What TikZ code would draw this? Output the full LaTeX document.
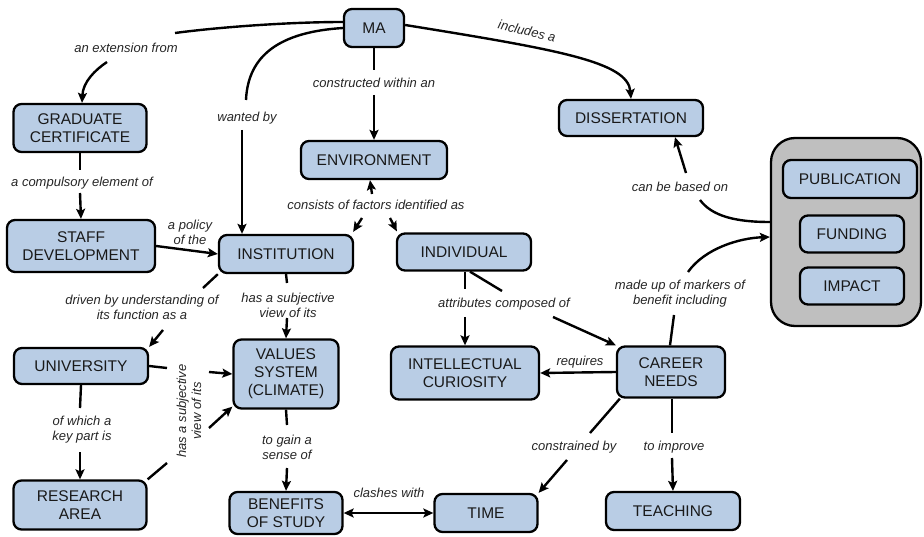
\documentclass[tikz,border=0pt]{standalone}
\usepackage{fontspec}
\setmainfont{Liberation Sans}
\usetikzlibrary{arrows.meta}
\definecolor{conceptfill}{RGB}{185,205,229}
\definecolor{groupfill}{RGB}{191,191,191}
\tikzset{
  concept/.style={draw=black, fill=conceptfill, line width=2.3pt, rounded corners=8pt,
    align=center, inner sep=0pt, font=\fontsize{15.5}{18}\selectfont, text=black!90},
  groupbox/.style={draw=black, fill=groupfill, line width=2.3pt, rounded corners=24pt, inner sep=0pt},
  phrase/.style={inner sep=0pt, align=center, font=\fontsize{13}{15}\selectfont\itshape, text=black!85},
  link/.style={line width=2.4pt, draw=black},
  tip/.style={-{Stealth[length=10pt,width=9pt,inset=2pt]}},
  arr/.style={link, tip},
  dbl/.style={link, {Stealth[length=10pt,width=9pt,inset=2pt]}-{Stealth[length=10pt,width=9pt,inset=2pt]}}
}
\begin{document}
\begin{tikzpicture}[x=1pt,y=-1pt]
\useasboundingbox (0,0) rectangle (924,537);
\fill[white] (0,0) rectangle (924,537);

% grouped markers of benefit
\node[groupbox, minimum width=150pt, minimum height=188pt] (grp) at (846,232) {};

% concepts
\node[concept, minimum width=60pt, minimum height=38pt] (ma) at (374,28) {MA};
\node[concept, minimum width=133pt, minimum height=48pt] (grad) at (80,128) {GRADUATE\\CERTIFICATE};
\node[concept, minimum width=146pt, minimum height=38pt] (env) at (374,160) {ENVIRONMENT};
\node[concept, minimum width=144pt, minimum height=36pt] (diss) at (631,118) {DISSERTATION};
\node[concept, minimum width=148pt, minimum height=52pt] (staff) at (81,246) {STAFF\\DEVELOPMENT};
\node[concept, minimum width=134pt, minimum height=38pt] (inst) at (286,254) {INSTITUTION};
\node[concept, minimum width=134pt, minimum height=37pt] (indiv) at (464,252) {INDIVIDUAL};
\node[concept, minimum width=134pt, minimum height=38pt] (pub) at (850,179) {PUBLICATION};
\node[concept, minimum width=104pt, minimum height=37pt] (fund) at (852,234) {FUNDING};
\node[concept, minimum width=104pt, minimum height=37pt] (impact) at (852,286) {IMPACT};
\node[concept, minimum width=134pt, minimum height=36pt] (univ) at (81,366) {UNIVERSITY};
\node[concept, minimum width=105pt, minimum height=69pt] (values) at (286,374) {VALUES\\SYSTEM\\(CLIMATE)};
\node[concept, minimum width=133pt, minimum height=49pt] (research) at (80,505) {RESEARCH\\AREA};
\node[concept, minimum width=113pt, minimum height=42pt] (benefits) at (286,513) {BENEFITS\\OF STUDY};
\node[concept, minimum width=148pt, minimum height=53pt] (curio) at (465,373) {INTELLECTUAL\\CURIOSITY};
\node[concept, minimum width=108pt, minimum height=51pt] (career) at (671,372) {CAREER\\NEEDS};
\node[concept, minimum width=103pt, minimum height=38pt] (time) at (486,513) {TIME};
\node[concept, minimum width=134pt, minimum height=38pt] (teach) at (673,511) {TEACHING};

% linking phrases
\node[phrase] (lext) at (126,48) {an extension from};
\node[phrase] (lwant) at (247,118) {wanted by};
\node[phrase] (lcons) at (374,83) {constructed within an};
\node[phrase, rotate=-13] (lincl) at (527,31) {includes a};
\node[phrase] (lcomp) at (82,183) {a compulsory element of};
\node[phrase] (lpol) at (190,232) {a policy\\of the};
\node[phrase] (lfact) at (376,205) {consists of factors identified as};
\node[phrase] (ldrive) at (142,307) {driven by understanding of\\its function as a};
\node[phrase] (lsubj) at (288,305) {has a subjective\\view of its};
\node[phrase] (lattr) at (504,304) {attributes composed of};
\node[phrase] (lmade) at (680,294) {made up of markers of\\benefit including};
\node[phrase] (lbased) at (680,187) {can be based on};
\node[phrase] (lreq) at (580,362) {requires};
\node[phrase] (lkey) at (82,430) {of which a\\key part is};
\node[phrase, rotate=90] (lside) at (189,411) {has a subjective\\view of its};
\node[phrase] (lgain) at (287,447) {to gain a\\sense of};
\node[phrase] (lclash) at (389,493) {clashes with};
\node[phrase] (lconstr) at (574,447) {constrained by};
\node[phrase] (limpr) at (674,447) {to improve};

% MA -> an extension from -> GRADUATE CERTIFICATE
\draw[link] ([shift={(0,-6)}]ma.west) .. controls (290,22) and (220,27) .. ([shift={(49,-15)}]lext.center);
\draw[arr] ([shift={(-19,14)}]lext.center) .. controls (95,70) and (83,82) .. ([shift={(2,0)}]grad.north);

% MA -> wanted by -> INSTITUTION
\draw[link] (ma.west) .. controls (280,32) and (248,55) .. ([shift={(-1,-18)}]lwant.center);
\draw[arr] ([shift={(-5,12)}]lwant.center) -- ([shift={(-44,0)}]inst.north);

% MA -> constructed within an -> ENVIRONMENT
\draw[link] (ma.south) -- ([shift={(0,-13)}]lcons.center);
\draw[arr] ([shift={(0,12)}]lcons.center) -- (env.north);

% MA -> includes a -> DISSERTATION
\draw[arr] ([shift={(0,-3)}]ma.east) .. controls (560,50) and (628,62) .. (diss.north);

% GRADUATE CERTIFICATE -> STAFF DEVELOPMENT
\draw[link] (grad.south) -- ([shift={(-2,-13)}]lcomp.center);
\draw[arr] ([shift={(-2,10)}]lcomp.center) -- (staff.north);

% STAFF DEVELOPMENT -> INSTITUTION
\draw[arr] (staff.east) -- (inst.west);

% ENVIRONMENT -> consists of factors -> INSTITUTION, INDIVIDUAL
\draw[arr] ([shift={(-4,-11)}]lfact.center) -- ([shift={(-4,0)}]env.south);
\draw[arr] ([shift={(-14,13)}]lfact.center) -- ([shift={(-1,-2)}]inst.north east);
\draw[arr] ([shift={(14,13)}]lfact.center) -- ([shift={(1,-1)}]indiv.north west);

% INSTITUTION -> driven by -> UNIVERSITY
\draw[link] (inst.south west) -- ([shift={(61,-19)}]ldrive.center);
\draw[arr] ([shift={(21,23)}]ldrive.center) -- (univ.north east);

% INSTITUTION -> has a subjective view -> VALUES
\draw[link] (inst.south) -- ([shift={(-1,-22)}]lsubj.center);
\draw[arr] ([shift={(-1,13)}]lsubj.center) -- (values.north);

% UNIVERSITY, RESEARCH AREA -> has a subjective view -> VALUES
\draw[link] (univ.east) -- ([shift={(-22,-43)}]lside.center);
\draw[arr] ([shift={(20,-39)}]lside.center) -- (values.west);
\draw[link] (research.north east) -- ([shift={(-22,52)}]lside.center);
\draw[arr] ([shift={(20,17)}]lside.center) -- ([shift={(0,-3)}]values.south west);

% UNIVERSITY -> of which a key part is -> RESEARCH AREA
\draw[link] (univ.south) -- ([shift={(-2,-22)}]lkey.center);
\draw[arr] ([shift={(-2,22)}]lkey.center) -- (research.north);

% VALUES -> to gain a sense of -> BENEFITS
\draw[link] (values.south) -- ([shift={(0,-22)}]lgain.center);
\draw[arr] ([shift={(0,21)}]lgain.center) -- (benefits.north);

% BENEFITS <-> TIME
\draw[dbl] (benefits.east) -- (time.west);

% INDIVIDUAL -> attributes composed of -> CURIOSITY, CAREER NEEDS
\draw[link] ([shift={(1,0)}]indiv.south) -- ([shift={(-39,-15)}]lattr.center);
\draw[arr] ([shift={(-39,13)}]lattr.center) -- (curio.north);
\draw[link] ([shift={(6,0)}]indiv.south) -- ([shift={(-2,-13)}]lattr.center);
\draw[arr] ([shift={(49,13)}]lattr.center) -- (career.north west);

% CAREER NEEDS -> made up of markers -> group
\draw[link] ([shift={(-1,0)}]career.north) -- ([shift={(-6,21)}]lmade.center);
\draw[arr] ([shift={(8,-22)}]lmade.center) .. controls (705,248) and (740,238) .. ([shift={(0,5)}]grp.west);

% group -> can be based on -> DISSERTATION
\draw[link] ([shift={(0,-10)}]grp.west) .. controls (735,222) and (712,216) .. ([shift={(20,13)}]lbased.center);
\draw[arr] ([shift={(6,-14)}]lbased.center) -- ([shift={(44,0)}]diss.south);

% CAREER NEEDS -> requires -> CURIOSITY
\draw[arr] (career.west) -- (curio.east);

% CAREER NEEDS -> constrained by -> TIME
\draw[link] ([shift={(4,0)}]career.south west) -- ([shift={(16,-14)}]lconstr.center);
\draw[arr] ([shift={(-7,13)}]lconstr.center) -- (time.north east);

% CAREER NEEDS -> to improve -> TEACHING
\draw[link] ([shift={(1,0)}]career.south) -- ([shift={(-2,-14)}]limpr.center);
\draw[arr] ([shift={(-2,11)}]limpr.center) -- (teach.north);
\end{tikzpicture}
\end{document}
